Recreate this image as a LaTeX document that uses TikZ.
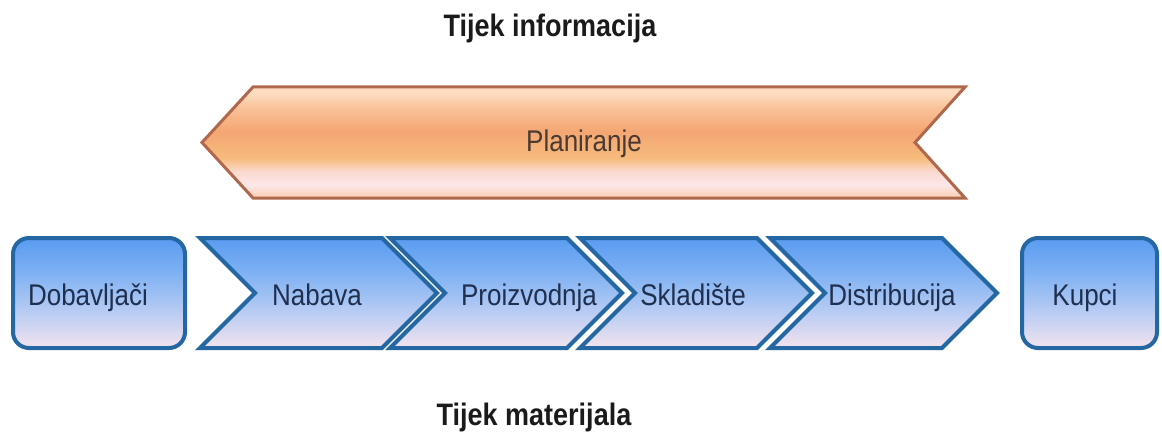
\documentclass[tikz,border=0pt]{standalone}
\usepackage{fontspec}
\setmainfont{Liberation Sans}

\definecolor{chevline}{HTML}{2467A3}
\definecolor{chevtop}{HTML}{5A9BF0}
\definecolor{chevhigh}{HTML}{7CB0F3}
\definecolor{chevmid}{HTML}{B6CBF3}
\definecolor{chevlow}{HTML}{F3E3EE}
\definecolor{planline}{HTML}{B0684C}
\definecolor{planA}{HTML}{F9CFAE}
\definecolor{planB}{HTML}{FDE7EA}
\definecolor{planC}{HTML}{FBD9CF}
\definecolor{planD}{HTML}{F6BB7C}
\definecolor{planE}{HTML}{F4A673}
\definecolor{planF}{HTML}{F9C39A}
\definecolor{planG}{HTML}{FDDCC0}
\definecolor{boxink}{HTML}{1F2F4F}
\definecolor{planink}{HTML}{4A3A32}
\definecolor{titleink}{HTML}{1A1A1A}

\pgfdeclareverticalshading{chevshade}{100bp}{color(0bp)=(chevlow); color(25bp)=(chevlow);
  color(42bp)=(chevmid); color(60bp)=(chevhigh); color(75bp)=(chevtop); color(100bp)=(chevtop)}
\pgfdeclareverticalshading{planshade}{100bp}{color(0bp)=(planA); color(25bp)=(planA);
  color(31bp)=(planB); color(37bp)=(planC); color(43bp)=(planD); color(55bp)=(planE);
  color(66bp)=(planF); color(72bp)=(planG); color(75bp)=(planG); color(100bp)=(planG)}

\begin{document}
\begin{tikzpicture}[x=1pt,y=1pt,
    chevbox/.style={draw=chevline,line width=4pt,shade,shading=chevshade},
    planbox/.style={draw=planline,line width=3pt,shade,shading=planshade},
    boxtext/.style={font=\fontsize{26}{30}\selectfont,text=boxink,inner sep=0pt,anchor=base},
    titletext/.style={font=\fontsize{27}{32}\selectfont\bfseries,text=titleink,inner sep=0pt,anchor=base}]
    \useasboundingbox (0,0) rectangle (1162,432);

    %information flow
    \node[titletext] (info) at (550,395) {\scalebox{1}[1.15]{Tijek informacija}};
    \path[planbox] (253,345) -- (965,345) -- (915,289.5) -- (965,234) -- (253,234) -- (202,289.5) -- cycle;
    \node[boxtext,text=planink] (plan) at (584,280) {\scalebox{1}[1.15]{Planiranje}};

    %material flow
    \path[chevbox,rounded corners=16pt] (13,84) rectangle (185,194);
    \node[boxtext] (dob) at (88,127) {\scalebox{1}[1.15]{Dobavljači}};
    \foreach \xl/\xr/\name/\txt/\tx in {200/382/nab/Nabava/317, 390/567/pro/Proizvodnja/529,
        580/757/skl/Skladište/693, 770/942/dis/Distribucija/892} {
        \path[chevbox] (\xl,194) -- (\xr,194) -- (\xr+55,139) -- (\xr,84) -- (\xl,84) -- (\xl+55,139) -- cycle;
        \node[boxtext] (\name) at (\tx,127) {\scalebox{1}[1.15]{\txt}};
    }
    \path[chevbox,rounded corners=16pt] (1022,84) rectangle (1157,194);
    \node[boxtext] (kup) at (1085,127) {\scalebox{1}[1.15]{Kupci}};
    \node[titletext] (mat) at (534,7) {\scalebox{1}[1.15]{Tijek materijala}};
\end{tikzpicture}
\end{document}
